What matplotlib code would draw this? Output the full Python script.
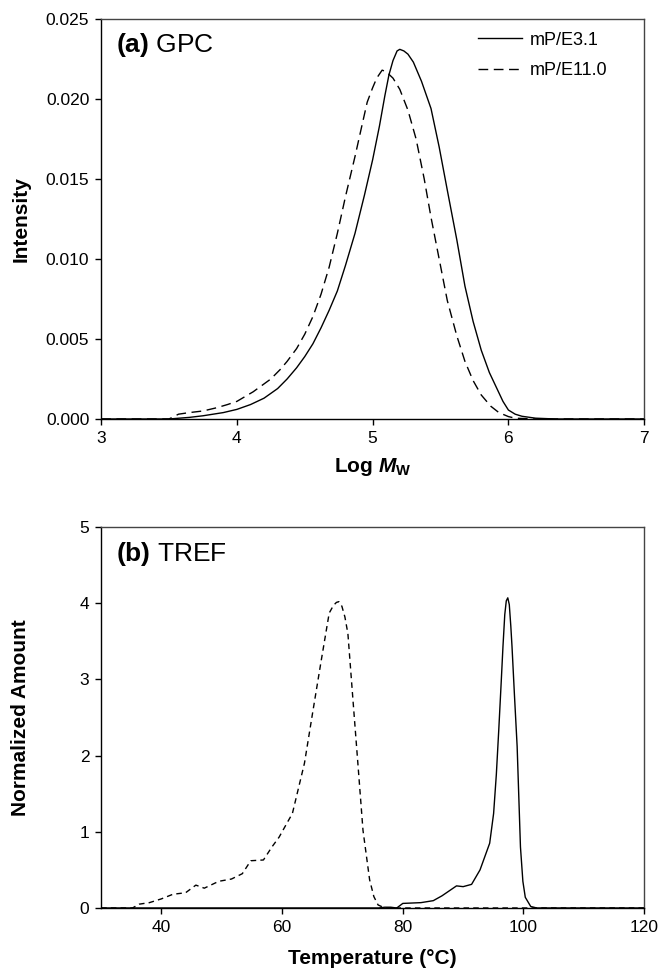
import numpy as np
import matplotlib
matplotlib.use("Agg")
import matplotlib.pyplot as plt
from matplotlib.ticker import FormatStrFormatter

plt.rcParams['font.family'] = ['Liberation Sans', 'DejaVu Sans']
plt.rcParams['mathtext.fontset'] = 'custom'
plt.rcParams['mathtext.rm'] = 'Liberation Sans'
plt.rcParams['mathtext.bf'] = 'Liberation Sans:bold'
plt.rcParams['mathtext.it'] = 'Liberation Sans:italic:bold'

# (a) GPC curves
gpc_x_31 = [3.0, 3.5, 3.65, 3.75, 3.9, 4.0, 4.1, 4.2, 4.3, 4.37, 4.44, 4.5, 4.56, 4.62, 4.68,
            4.74, 4.8, 4.87, 4.94, 5.0, 5.05, 5.09, 5.12, 5.15, 5.18, 5.2, 5.23, 5.26, 5.3,
            5.36, 5.43, 5.49, 5.55, 5.62, 5.68, 5.74, 5.8, 5.86, 5.91, 5.96, 6.0, 6.05,
            6.1, 6.2, 6.35, 7.0]
gpc_y_31 = [0, 0, 0.0001, 0.0002, 0.0004, 0.0006, 0.0009, 0.0013, 0.0019, 0.0025, 0.0032,
            0.0039, 0.0047, 0.0057, 0.0068, 0.0080, 0.0096, 0.0116, 0.0140, 0.0162, 0.0183,
            0.0202, 0.0215, 0.0224, 0.0230, 0.0231, 0.0230, 0.0228, 0.0223, 0.0211, 0.0194,
            0.0170, 0.0143, 0.0112, 0.0083, 0.0061, 0.0043, 0.0029, 0.0020, 0.0011, 0.00056,
            0.0003, 0.00017, 0.00005, 0, 0]

gpc_x_110 = [3.0, 3.5, 3.57, 3.65, 3.75, 3.85, 3.93, 4.0, 4.12, 4.25, 4.32, 4.37, 4.44, 4.5,
             4.56, 4.62, 4.68, 4.74, 4.8, 4.87, 4.92, 4.96, 5.0, 5.03, 5.07, 5.1, 5.15, 5.2,
             5.26, 5.32, 5.38, 5.43, 5.49, 5.55, 5.62, 5.68, 5.74, 5.8, 5.87, 5.93, 6.0,
             6.05, 6.2, 7.0]
gpc_y_110 = [0, 0, 0.0003, 0.0004, 0.0005, 0.0007, 0.0009, 0.0011, 0.0017, 0.0025, 0.0031,
             0.0036, 0.0044, 0.0053, 0.0064, 0.0078, 0.0095, 0.0116, 0.0139, 0.0164, 0.0183,
             0.0198, 0.0207, 0.0213, 0.0218, 0.0217, 0.0213, 0.0206, 0.0193, 0.0175, 0.0150,
             0.0126, 0.0100, 0.0074, 0.0052, 0.0036, 0.0024, 0.0015, 0.0008, 0.0004, 0.00015,
             0.00005, 0, 0]

# (b) TREF curves
tref_t_31 = [30, 76, 77, 78, 79, 80, 83, 85.05, 86.5, 88.9, 90, 91.4, 92.8, 94.4, 95.05,
             95.5, 95.9, 96.3, 96.6, 96.9, 97.15, 97.4, 97.65, 97.9, 98.1, 98.5, 98.95,
             99.5, 99.9, 100.3, 101.2, 102.2, 120]
tref_y_31 = [0, 0, 0.01, 0.01, 0.0, 0.06, 0.07, 0.096, 0.16, 0.29, 0.28, 0.31, 0.50, 0.85,
             1.24, 1.75, 2.33, 2.95, 3.43, 3.85, 4.03, 4.07, 3.98, 3.7, 3.43, 2.8, 2.12,
             0.8, 0.35, 0.14, 0.02, 0, 0]

tref_t_110 = [30, 35.2, 36.3, 38, 40, 41.9, 44, 45.7, 47.1, 49.5, 51.6, 53.4, 54.8, 56.9,
              58.3, 59.5, 60.7, 61.7, 63.7, 65.05, 66.4, 67.8, 68.5, 69.0, 69.4, 69.9,
              70.4, 70.9, 71.7, 72.55, 73.4, 74.5, 75.2, 75.9, 77, 120]
tref_y_110 = [0, 0, 0.05, 0.07, 0.12, 0.18, 0.2, 0.3, 0.26, 0.35, 0.38, 0.45, 0.62, 0.63,
              0.8, 0.93, 1.1, 1.24, 1.9, 2.56, 3.21, 3.87, 3.97, 4.01, 4.02, 3.96,
              3.82, 3.6, 2.77, 1.9, 1.02, 0.37, 0.15, 0.04, 0, 0]

labels = ['mP/E3.1', 'mP/E11.0']

fig = plt.figure(figsize=(6.61, 9.71), dpi=100)
ax1 = fig.add_axes([0.153, 0.5685, 0.8215, 0.412])
ax2 = fig.add_axes([0.153, 0.0649, 0.8215, 0.3924])

lw = 1.0
ax1.plot(gpc_x_31, gpc_y_31, color='black', lw=lw, label=labels[0])
ax1.plot(gpc_x_110, gpc_y_110, color='black', lw=lw, dashes=(7, 4), label=labels[1])
ax1.set_xlim(3, 7)
ax1.set_ylim(0, 0.025)
ax1.set_xticks([3, 4, 5, 6, 7])
ax1.set_yticks(np.arange(0, 0.0251, 0.005))
ax1.yaxis.set_major_formatter(FormatStrFormatter('%.3f'))
ax1.set_xlabel(r'Log $\mathit{M}_\mathbf{W}$', fontsize=15, fontweight='bold', labelpad=7)
ax1.set_ylabel('Intensity', fontsize=15, fontweight='bold', labelpad=11)
ax1.text(0.028, 0.935, r'$\mathbf{(a)}$ GPC', transform=ax1.transAxes,
         fontsize=19, va='center', ha='left')
ax1.legend(loc='upper left', bbox_to_anchor=(0.694, 0.968), frameon=False, fontsize=13,
           handlelength=2.45, handletextpad=0.4, labelspacing=0.75, borderpad=0,
           borderaxespad=0)

ax2.plot(tref_t_31, tref_y_31, color='black', lw=lw)
ax2.plot(tref_t_110, tref_y_110, color='black', lw=lw, dashes=(4, 3))
ax2.set_xlim(30, 120)
ax2.set_ylim(0, 5)
ax2.set_xticks([40, 60, 80, 100, 120])
ax2.set_yticks([0, 1, 2, 3, 4, 5])
ax2.set_xlabel('Temperature (°C)', fontsize=15, fontweight='bold', labelpad=10)
ax2.set_ylabel('Normalized Amount', fontsize=15, fontweight='bold', labelpad=36)
ax2.text(0.028, 0.93, r'$\mathbf{(b)}$ TREF', transform=ax2.transAxes,
         fontsize=19, va='center', ha='left')

for ax in (ax1, ax2):
    ax.tick_params(direction='out', length=4.5, width=1, labelsize=12.5, pad=4,
                   top=False, right=False)
    for s in ax.spines.values():
        s.set_linewidth(1)
    ax.spines['top'].set_color('#444444')
    ax.spines['right'].set_color('#444444')

fig.savefig('out.png', dpi=100)
